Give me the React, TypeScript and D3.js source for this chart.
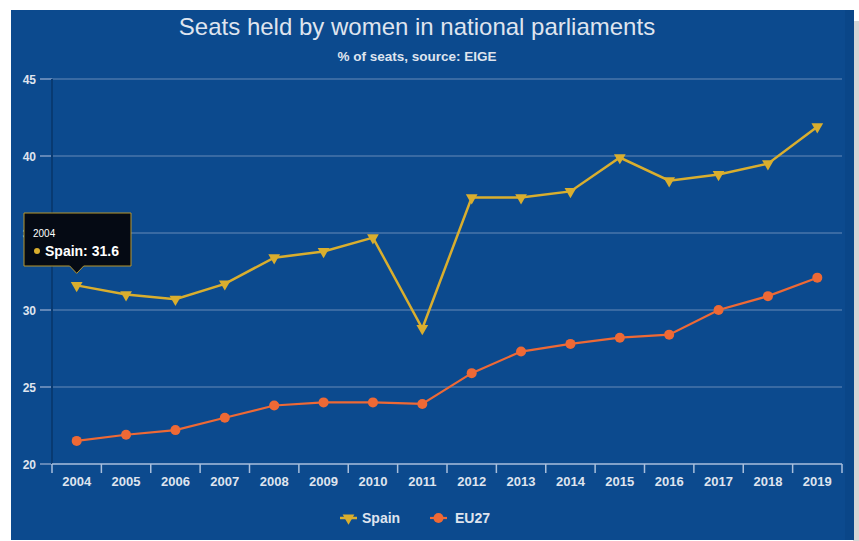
import React from "react";
import * as d3 from "d3";

const years = ["2004","2005","2006","2007","2008","2009","2010","2011","2012","2013","2014","2015","2016","2017","2018","2019"];
const spain = [31.6,31.0,30.7,31.7,33.4,33.8,34.7,28.8,37.3,37.3,37.7,39.9,38.4,38.8,39.5,41.9];
const eu27 = [21.5,21.9,22.2,23.0,23.8,24.0,24.0,23.9,25.9,27.3,27.8,28.2,28.4,30.0,30.9,32.1];
const yTicks = [20,25,30,35,40,45];

const BG = "#0c4a8e";
const SPAIN = "#d9ae2e";
const EU = "#ee6935";
const TXT = "#dfe4ee";
const GRID = "#7f9cc4";

export default function App() {
  const W = 859, H = 541;
  const left = 52, right = 842, top = 79, bottom = 464;
  const x = d3.scaleBand<string>().domain(years).range([left, right]);
  const y = d3.scaleLinear().domain([20, 45]).range([bottom, top]);
  const cx = (i: number) => (x(years[i]) as number) + x.bandwidth() / 2;
  const line = d3.line<number>().x((_, i) => cx(i)).y((d) => y(d));
  const tri = d3.symbol().type(d3.symbolTriangle).size(60)();
  const font = "'Liberation Sans', Arial, sans-serif";
  const tipX = cx(0), tipY = y(spain[0]);
  return (
    <svg width={W} height={H} style={{ position: "absolute", left: 0, top: 0, fontFamily: font }}>
      <rect x={0} y={0} width={W} height={H} fill="#ffffff" />
      <rect x={853} y={21} width={6} height={H - 21} fill="#d6d6d6" />
      <rect x={11} y={10} width={843} height={530} fill={BG} />
      <rect x={845} y={10} width={9} height={530} fill="#0a4484" opacity={0.6} />
      <text x={417} y={35} textAnchor="middle" fontSize={24} fill={TXT}>Seats held by women in national parliaments</text>
      <text x={417} y={61} textAnchor="middle" fontSize={13.5} fontWeight="bold" fill={TXT}>% of seats, source: EIGE</text>
      {yTicks.map((t) => (
        <g key={t}>
          <line x1={left} x2={right} y1={y(t)} y2={y(t)} stroke={GRID} strokeWidth={1} opacity={t === 20 ? 0 : 0.8} />
          <line x1={40} x2={left} y1={y(t)} y2={y(t)} stroke={GRID} strokeWidth={1.5} />
          <text x={36} y={y(t) + 4.5} textAnchor="end" fontSize={12} fontWeight="bold" fill={TXT}>{t}</text>
        </g>
      ))}
      <line x1={left} x2={left} y1={top} y2={bottom} stroke="#083a72" strokeWidth={2} />
      <line x1={left} x2={right} y1={bottom} y2={bottom} stroke="#a9bfdc" strokeWidth={1.5} />
      {[...years.map((yr) => x(yr) as number), right].map((px, i) => (
        <line key={i} x1={px} x2={px} y1={bottom} y2={bottom + 9} stroke="#a9bfdc" strokeWidth={1.5} />
      ))}
      {years.map((yr, i) => (
        <text key={yr} x={cx(i)} y={486} textAnchor="middle" fontSize={13} fontWeight="bold" fill={TXT}>{yr}</text>
      ))}
      <path d={line(eu27) || ""} fill="none" stroke={EU} strokeWidth={2.2} />
      {eu27.map((v, i) => (
        <circle key={i} cx={cx(i)} cy={y(v)} r={5} fill={EU} />
      ))}
      <path d={line(spain) || ""} fill="none" stroke={SPAIN} strokeWidth={2.5} />
      {spain.map((v, i) => (
        <path key={i} d={tri || ""} transform={`translate(${cx(i)},${y(v)}) rotate(180)`} fill={SPAIN} />
      ))}
      {/* legend */}
      <g>
        <line x1={340} x2={357} y1={518} y2={518} stroke={SPAIN} strokeWidth={2.5} />
        <path d={tri || ""} transform={`translate(348.5,518) rotate(180)`} fill={SPAIN} />
        <text x={362} y={523} fontSize={14} fontWeight="bold" fill={TXT}>Spain</text>
        <line x1={430} x2={447} y1={518} y2={518} stroke={EU} strokeWidth={2.2} />
        <circle cx={438.5} cy={518} r={5} fill={EU} />
        <text x={455} y={523} fontSize={14} fontWeight="bold" fill={TXT}>EU27</text>
      </g>
      {/* tooltip */}
      <g>
        <path
          d={`M24,213 H131 V266 H${tipX + 7} L${tipX},${tipY - 12} L${tipX - 7},266 H24 Z`}
          fill="#050a14" stroke="#b8962c" strokeWidth={1} />
        <text x={33} y={237} fontSize={10} fill="#ffffff">2004</text>
        <circle cx={37} cy={251} r={3} fill={SPAIN} />
        <text x={45} y={256} fontSize={14} fontWeight="bold" fill="#ffffff">Spain: 31.6</text>
      </g>
    </svg>
  );
}
